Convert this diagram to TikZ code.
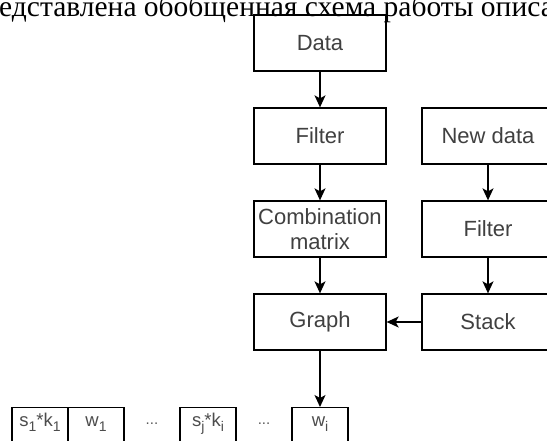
\documentclass[tikz,border=0pt]{standalone}
\usepackage{fontspec}
\setmainfont{Liberation Serif}
\setsansfont{Liberation Sans}
\usetikzlibrary{arrows.meta}

\newcommand{\lowsub}[1]{\raisebox{-4.5pt}{\fontsize{14}{14}\selectfont #1}}

\begin{document}
\begin{tikzpicture}[x=1pt, y=-1pt,
    blk/.style={draw, line width=1.3pt, minimum width=132pt, minimum height=56pt,%
      inner sep=0pt, align=center, text=black!75,%
      font=\sffamily\fontsize{22}{25}\selectfont},
    cell/.style={draw, line width=1.3pt, anchor=north, minimum width=56pt,%
      inner sep=0pt, text height=19pt, text depth=37pt, text=black!70,%
      font=\sffamily\fontsize{18.5}{20}\selectfont},
    link/.style={line width=1.3pt, -{Stealth[length=12pt, width=11pt, inset=3pt]}}]

  \useasboundingbox (0,0) rectangle (547,441);
  \clip (0,0) rectangle (547,441);

  % line of the page above the figure
  \node[anchor=base west, inner sep=0pt, font=\fontsize{29.5}{31}\selectfont] (head)%
    at (-1,17) {едставлена обобщенная схема работы описа};

  % left column
  \node[blk] (data)   at (320,43)  {Data};
  \node[blk] (filt)   at (320,136) {Filter};
  \node[blk] (comb)   at (320,229) {Combination\\matrix};
  \node[blk] (graph)  at (320,322) {Graph};

  % right column
  \node[blk] (newdata) at (488,136) {New data};
  \node[blk] (filt2)   at (488,229) {Filter};
  \node[blk] (stack)   at (488,322) {Stack};

  % result row
  \node[cell] (s1) at (40,407)  {s\lowsub{1}*k\lowsub{1}};
  \node[cell] (w1) at (96,407)  {w\lowsub{1}};
  \node[cell] (sj) at (208,407) {s\lowsub{j}*k\lowsub{i}};
  \node[cell] (wi) at (320,407) {w\lowsub{i}};
  \foreach \x/\n in {152/dotsA, 264/dotsB} {%
    \node[text=black!65, font=\sffamily\fontsize{15}{18}\selectfont] (\n) at (\x,424) {...};%
  }%

  \draw[link] (data) -- (filt);
  \draw[link] (filt) -- (comb);
  \draw[link] (comb) -- (graph);
  \draw[link] (newdata) -- (filt2);
  \draw[link] (filt2) -- (stack);
  \draw[link] (stack) -- (graph);
  \draw[link] (graph) -- (wi);
\end{tikzpicture}
\end{document}
